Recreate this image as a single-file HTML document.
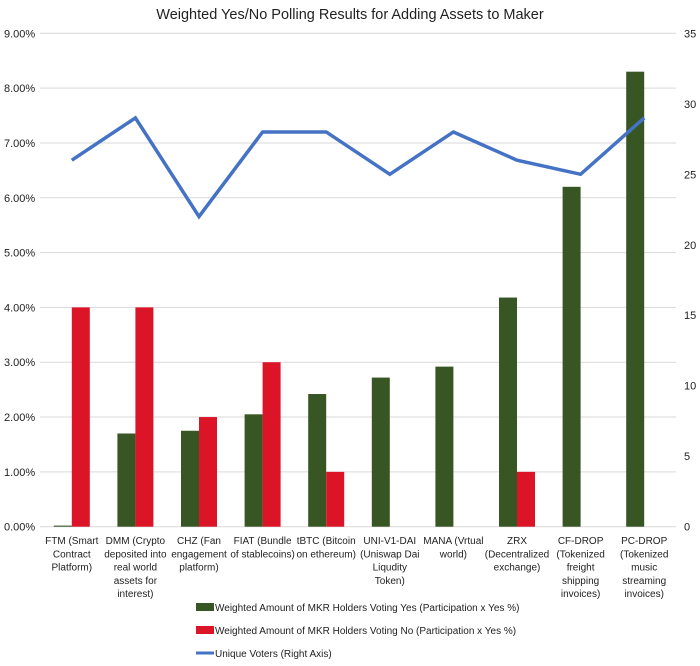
<!DOCTYPE html>
<html><head><meta charset="utf-8"><style>
body{margin:0;background:#fff;font-family:"Liberation Sans",sans-serif;}
svg text{font-family:"Liberation Sans",sans-serif;fill:#222;}
</style></head><body>
<svg id="chart" width="700" height="661">
<text x="350" y="19" text-anchor="middle" font-size="14.5">Weighted Yes/No Polling Results for Adding Assets to Maker</text>
<g id="grid"></g><g id="bars"></g><g id="line"></g><g id="axes"></g><g id="legend"></g>
</svg>
<script>
const categories=[["FTM (Smart","Contract","Platform)"],["DMM (Crypto","deposited into","real world","assets for","interest)"],["CHZ (Fan","engagement","platform)"],["FIAT (Bundle","of stablecoins)"],["tBTC (Bitcoin","on ethereum)"],["UNI-V1-DAI","(Uniswap Dai","Liqudity","Token)"],["MANA (Vrtual","world)"],["ZRX","(Decentralized","exchange)"],["CF-DROP","(Tokenized","freight","shipping","invoices)"],["PC-DROP","(Tokenized","music","streaming","invoices)"]];
const yesValues=[0.02,1.7,1.75,2.05,2.42,2.72,2.92,4.18,6.2,8.3];
const noValues=[4,4,2,3,1,0,0,1,0,0];
const voters=[26,29,22,28,28,25,28,26,25,29];
const leftTicks=[0,1,2,3,4,5,6,7,8,9];
const rightTicks=[0,5,10,15,20,25,30,35];
const NS="http://www.w3.org/2000/svg";
const L=40,R=676,T=33.3,B=526.7;
const cw=(R-L)/categories.length;
const yL=v=>B-(v/9)*(B-T);
const yR=v=>B-(v/35)*(B-T);
const xC=i=>L+cw*(i+0.5);
function mk(tag,parent,attrs){const e=document.createElementNS(NS,tag);for(const k in attrs)e.setAttribute(k,attrs[k]);document.getElementById(parent).appendChild(e);return e;}
leftTicks.forEach(t=>{
 const g=mk('line','grid',{x1:L,x2:R,y1:yL(t),y2:yL(t),stroke:'#d9d9d9','stroke-width':1});
 
 
 const tx=mk('text','axes',{x:4,y:yL(t)+4,'font-size':11});
 tx.textContent=t.toFixed(2)+'%';
 
 
});
rightTicks.forEach(t=>{
 const tx=mk('text','axes',{x:684,y:yR(t)+4,'font-size':11});
 tx.textContent=t;
 
 
});
const bw=18;
categories.forEach((c,i)=>{
 const x=xC(i);
 const g=mk('rect','bars',{x:x-bw,y:yL(yesValues[i]),width:bw,height:B-yL(yesValues[i]),fill:'#375623'});
 
 
 if(noValues[i]>0){
 const r=mk('rect','bars',{x:x,y:yL(noValues[i]),width:bw,height:B-yL(noValues[i]),fill:'#dc1428'});
 
 
 }
 const tx=mk('text','axes',{'font-size':10,'text-anchor':'middle'});
 
 
 c.forEach((ln,j)=>{const s=document.createElementNS(NS,'tspan');s.setAttribute('x',x);s.setAttribute('y',544+j*13.3);s.textContent=ln;tx.appendChild(s);});
});
const pts=voters.map((v,i)=>xC(i)+','+yR(v)).join(' ');
const pl=mk('polyline','line',{points:pts,fill:'none',stroke:'#4472c4','stroke-width':3.5,'stroke-linejoin':'miter'});


const leg=[['rect','#375623','Weighted Amount of MKR Holders Voting Yes (Participation x Yes %)'],['rect','#dc1428','Weighted Amount of MKR Holders Voting No (Participation x Yes %)'],['line','#4472c4','Unique Voters (Right Axis)']];
leg.forEach((l,i)=>{
 const y=613+i*23;
 let m;
 if(l[0]==='rect')m=mk('rect','legend',{x:196,y:y-10,width:18,height:8,fill:l[1]});
 else m=mk('line','legend',{x1:196,x2:214,y1:y-6,y2:y-6,stroke:l[1],'stroke-width':3});
 
 
 const tx=mk('text','legend',{x:215,y:y-2,'font-size':10});
 tx.textContent=l[2];
 
 
});
</script>
</body></html>
